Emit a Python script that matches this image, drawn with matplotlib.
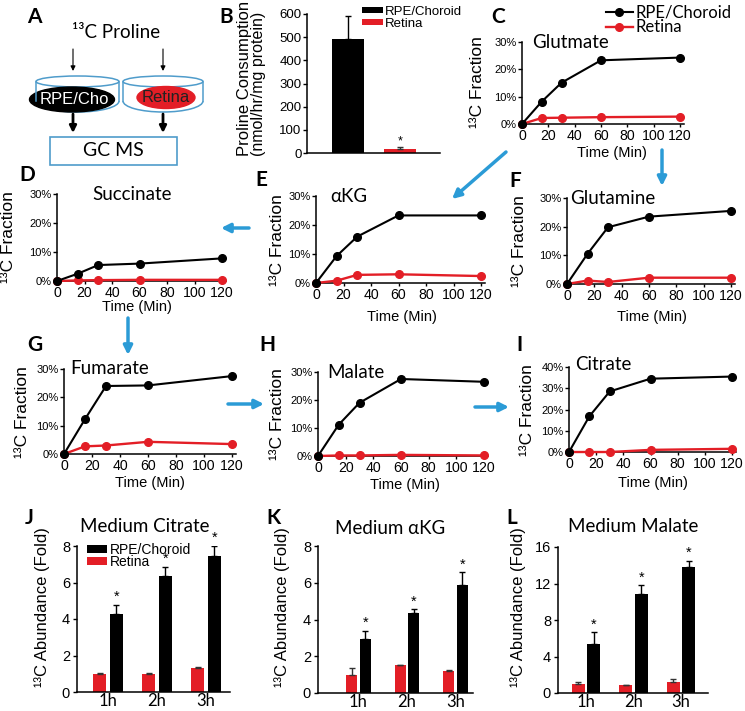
import matplotlib
matplotlib.use('Agg')
import matplotlib.pyplot as plt
from matplotlib.patches import Ellipse, Arc, Rectangle
from matplotlib.lines import Line2D
import numpy as np

W, H = 745, 711
plt.rcParams['font.family'] = ['Liberation Sans', 'DejaVu Sans']
TF = ['Lato', 'DejaVu Sans']
RED = '#e31e26'
BLUE = '#2b9bd6'
DISH = '#4f9ccb'

# ---------------- data ----------------
time_min = [0, 15, 30, 60, 120]
glutamate_rpe = [0, 8.2, 15.1, 23.3, 24.3]
glutamate_ret = [0, 2.2, 2.3, 2.5, 2.7]
succinate_rpe = [0, 2.5, 5.5, 6.0, 7.8]
succinate_ret = [0, 0.2, 0.3, 0.4, 0.4]
akg_rpe = [0, 9.3, 16.0, 23.3, 23.3]
akg_ret = [0, 0.8, 2.8, 3.0, 2.4]
glutamine_rpe = [0, 10.5, 19.8, 23.5, 25.5]
glutamine_ret = [0, 1.2, 0.7, 2.2, 2.2]
fumarate_rpe = [0, 12.3, 24.0, 24.2, 27.5]
fumarate_ret = [0, 2.7, 3.0, 4.3, 3.5]
malate_rpe = [0, 11.2, 19.0, 27.5, 26.5]
malate_ret = [0, 0.2, 0.2, 0.4, 0.2]
citrate_rpe = [0, 16.8, 28.5, 34.5, 35.5]
citrate_ret = [0, 0.0, 0.0, 1.0, 1.5]

groups_b = ['RPE/Choroid', 'Retina']
proline_cons = [492, 19]
proline_err = [99, 5]

hours = ['1h', '2h', '3h']
med_citrate_ret = [0.99, 0.99, 1.33]
med_citrate_ret_err = [0.06, 0.07, 0.05]
med_citrate_rpe = [4.26, 6.37, 7.43]
med_citrate_rpe_err = [0.51, 0.50, 0.57]
med_akg_ret = [1.0, 1.51, 1.18]
med_akg_ret_err = [0.38, 0.03, 0.05]
med_akg_rpe = [2.96, 4.33, 5.87]
med_akg_rpe_err = [0.44, 0.23, 0.69]
med_malate_ret = [0.95, 0.88, 1.24]
med_malate_ret_err = [0.22, 0.05, 0.29]
med_malate_rpe = [5.33, 10.9, 13.8]
med_malate_rpe_err = [1.35, 0.9, 0.7]

fig = plt.figure(figsize=(W / 100, H / 100), dpi=100)

# overlay in pixel coordinates
ov = fig.add_axes([0, 0, 1, 1], zorder=10)
ov.set_xlim(0, W)
ov.set_ylim(H, 0)
ov.axis('off')
ov.patch.set_alpha(0)


def add_ax(x0, x1, ybot, ytop):
    return fig.add_axes([x0 / W, 1 - ybot / H, (x1 - x0) / W, (ybot - ytop) / H])


def style(ax):
    for s in ['top', 'right']:
        ax.spines[s].set_visible(False)
    for s in ['left', 'bottom']:
        ax.spines[s].set_linewidth(1.1)


def line_panel(px0, px120, ypx0, ypxtop, ymax, rpe, ret, title, tx, ty,
               xl, yl, lab, lpos):
    width = (px120 - px0) * 123 / 120
    ax = add_ax(px0, px0 + width, ypx0, ypxtop)
    style(ax)
    ax.plot(time_min, ret, color=RED, lw=1.7, marker='o', ms=5.5,
            clip_on=False, zorder=3)
    ax.plot(time_min, rpe, color='black', lw=1.5, marker='o', ms=5.5,
            clip_on=False, zorder=4)
    ax.set_xlim(0, 123)
    ax.set_ylim(0, ymax)
    ticks = list(range(0, ymax + 1, 10))
    ax.set_yticks(ticks)
    ax.set_yticklabels([f'{v}%' for v in ticks])
    ax.set_xticks([0, 20, 40, 60, 80, 100, 120])
    ax.tick_params(axis='y', labelsize=8, length=3, width=1, pad=1)
    ax.tick_params(axis='x', labelsize=10.2, length=2, width=1, pad=1.5)
    ov.text(tx, ty, title, family=TF, fontsize=13.5, ha='left', va='center')
    ov.text(xl[0], xl[1], 'Time (Min)', fontsize=10.5, ha='center', va='center')
    ov.text(yl[0], yl[1], '¹³C Fraction', fontsize=12.5, rotation=90,
            ha='center', va='center')
    ov.text(lpos[0], lpos[1], lab, family=TF, fontsize=15, fontweight='bold',
            ha='center', va='center')
    return ax


def bar_panel(x_axis, x_right, g1, spacing, bw, off, y0, ytop, ymax, step,
              ret, ret_err, rpe, rpe_err, title, tpos, yl, lab, lpos,
              legend=False, tsize=14):
    left = 1 - (g1 - x_axis) / spacing
    right = 3 + (x_right - (g1 + 2 * spacing)) / spacing
    ax = add_ax(x_axis, x_right, y0, ytop)
    style(ax)
    x = np.arange(1, 4)
    ax.bar(x - off, ret, bw, color=RED, label='Retina',
           yerr=[np.zeros(3), ret_err],
           error_kw=dict(ecolor='#333333', capsize=2.5, elinewidth=1, capthick=1))
    ax.bar(x + off, rpe, bw, color='black', label='RPE/Choroid',
           yerr=[np.zeros(3), rpe_err],
           error_kw=dict(ecolor='black', capsize=2.5, elinewidth=1, capthick=1))
    for xi, v, e in zip(x, rpe, rpe_err):
        ax.text(xi + off, v + e + ymax * 0.005, '*', ha='center', va='bottom',
                fontsize=10.5)
    ax.set_xlim(left, right)
    ax.set_ylim(0, ymax)
    ax.set_yticks(np.arange(0, ymax + 0.1, step))
    ax.set_xticks(x)
    ax.set_xticklabels(hours, family=TF, fontsize=12)
    ax.tick_params(axis='x', length=0, pad=1)
    ax.tick_params(axis='y', labelsize=10.5, length=3, width=1, pad=2)
    ov.text(tpos[0], tpos[1], title, family=TF, fontsize=tsize, ha='center',
            va='center')
    ov.text(yl[0], yl[1], '¹³C Abundance (Fold)', fontsize=12, rotation=90,
            ha='center', va='center')
    ov.text(lpos[0], lpos[1], lab, family=TF, fontsize=15, fontweight='bold',
            ha='center', va='center')
    if legend:
        h, l = ax.get_legend_handles_labels()
        ax.legend(h[::-1], l[::-1], loc='upper left',
                  bbox_to_anchor=(87 / W, 1 - 543 / H),
                  bbox_transform=fig.transFigure, frameon=False, fontsize=10,
                  borderpad=0, borderaxespad=0, handlelength=1.45,
                  handleheight=0.5, handletextpad=0.2, labelspacing=-0.15)
    return ax


# ---------------- Panel A (schematic) ----------------
ov.text(34, 17, 'A', family=TF, fontsize=15, fontweight='bold', ha='center',
        va='center')
ov.text(116, 32, '¹³C Proline', family=TF, fontsize=13.5, ha='center',
        va='center')
for xa in (73, 163):
    ov.annotate('', xy=(xa, 71), xytext=(xa, 49),
                arrowprops=dict(arrowstyle='-|>', color='black', lw=0.8,
                                mutation_scale=7, shrinkA=0, shrinkB=0))
    ov.annotate('', xy=(xa, 133), xytext=(xa, 114),
                arrowprops=dict(arrowstyle='-|>', color='black', lw=2,
                                mutation_scale=10, shrinkA=0, shrinkB=0))
for cx, w in ((77.5, 83), (163, 80)):
    ov.add_patch(Ellipse((cx, 81.5), w, 11, fill=False, ec=DISH, lw=1.1))
    ov.add_patch(Arc((cx, 101), w, 22, theta1=0, theta2=180, ec=DISH, lw=1.1))
    ov.plot([cx - w / 2, cx - w / 2], [81.5, 101], color=DISH, lw=1.1)
    ov.plot([cx + w / 2, cx + w / 2], [81.5, 101], color=DISH, lw=1.1)
ov.add_patch(Ellipse((72, 99.5), 85, 25, color='black'))
ov.text(74, 100, 'RPE/Cho', color='white', fontsize=12, ha='center',
        va='center')
ov.add_patch(Ellipse((166, 97.5), 58, 22, color=RED))
ov.text(166, 98, 'Retina', color='#222222', fontsize=12, ha='center',
        va='center')
ov.add_patch(Rectangle((50, 137), 127, 28, fill=False, ec=DISH, lw=1.2))
ov.text(113.5, 151, 'GC MS', family=TF, fontsize=14, ha='center',
        va='center')

# ---------------- Panel B ----------------
axb = add_ax(307, 440, 153, 14)
style(axb)
axb.bar([0], [proline_cons[0]], 0.615, color='black', label=groups_b[0],
        yerr=[[0], [proline_err[0]]],
        error_kw=dict(ecolor='black', capsize=2.5, elinewidth=1, capthick=1))
axb.bar([1], [proline_cons[1]], 0.615, color=RED, label=groups_b[1],
        yerr=[[0], [proline_err[1]]],
        error_kw=dict(ecolor='#333333', capsize=2.5, elinewidth=1, capthick=1))
axb.text(1, proline_cons[1] + proline_err[1] + 2, '*', ha='center',
         va='bottom', fontsize=9)
axb.set_xlim(-0.79, 1.77)
axb.set_ylim(0, 600)
axb.set_yticks(range(0, 601, 100))
axb.set_xticks([])
axb.tick_params(axis='y', labelsize=9.5, length=3, width=1, pad=1)
axb.legend(loc='upper left', bbox_to_anchor=(362 / W, 1 - 6 / H),
           bbox_transform=fig.transFigure, frameon=False, fontsize=9.5,
           borderpad=0, borderaxespad=0, handlelength=1.6, handleheight=0.35,
           handletextpad=0.1, labelspacing=0.0)
ov.text(244, 78, 'Proline Consumption', fontsize=12, rotation=90,
        ha='center', va='center')
ov.text(259, 84, '(nmol/hr/mg protein)', fontsize=11.5, rotation=90,
        ha='center', va='center')
ov.text(226, 17, 'B', family=TF, fontsize=15, fontweight='bold', ha='center',
        va='center')

# ---------------- line panels ----------------
axc = line_panel(522, 680, 124, 42, 30, glutamate_rpe, glutamate_ret,
                 'Glutmate', 532, 43, (612, 153), (477, 82), 'C', (498, 17))
hl = [Line2D([], [], color='black', lw=1.5, marker='o', ms=5.5),
      Line2D([], [], color=RED, lw=1.7, marker='o', ms=5.5)]
axc.legend(hl, ['RPE/Choroid', 'Retina'], loc='upper left',
           bbox_to_anchor=(606 / W, 1 - 5 / H), bbox_transform=fig.transFigure,
           frameon=False, prop=dict(family=TF, size=12), borderpad=0,
           borderaxespad=0, handlelength=1.6, handletextpad=0.15,
           labelspacing=-0.1)
line_panel(57, 222, 281, 194, 30, succinate_rpe, succinate_ret, 'Succinate',
           92, 195, (137, 307), (9, 237), 'D', (27, 175))
line_panel(316, 481, 283, 196, 30, akg_rpe, akg_ret, 'αKG', 330, 197,
           (402, 317), (277, 240), 'E', (261, 180))
line_panel(567, 731, 284, 198, 30, glutamine_rpe, glutamine_ret, 'Glutamine',
           570, 198, (652, 317), (520, 241), 'F', (515, 181))
line_panel(64, 232, 454, 369, 30, fumarate_rpe, fumarate_ret, 'Fumarate',
           70, 368, (150, 483), (23, 412), 'G', (35, 345))
line_panel(318, 484, 456, 372, 30, malate_rpe, malate_ret, 'Malate',
           327, 372, (405, 485), (277, 414), 'H', (267, 345))
line_panel(569, 732, 452, 367, 40, citrate_rpe, citrate_ret, 'Citrate',
           575, 365, (653, 483), (527, 410), 'I', (519, 345))

# ---------------- bar panels ----------------
bar_panel(77, 230, 108, 49, 0.265, 0.173, 692, 546, 8, 2,
          med_citrate_ret, med_citrate_ret_err, med_citrate_rpe,
          med_citrate_rpe_err, 'Medium Citrate', (145, 526), (42, 607), 'J',
          (29, 518), legend=True, tsize=13.5)
bar_panel(318, 473, 358.5, 48.5, 0.227, 0.144, 693, 546, 8, 2,
          med_akg_ret, med_akg_ret_err, med_akg_rpe, med_akg_rpe_err,
          'Medium αKG', (390, 528), (282, 607), 'K', (274, 518), tsize=13.5)
bar_panel(558, 708, 586, 47.5, 0.28, 0.163, 693, 547, 16, 4,
          med_malate_ret, med_malate_ret_err, med_malate_rpe,
          med_malate_rpe_err, 'Medium Malate', (633, 526), (518, 607), 'L',
          (512, 518), tsize=13.5)

# ---------------- blue flow arrows ----------------
arrows = [((506, 152), (452, 199)),
          ((662, 150), (662, 186)),
          ((249, 228), (221, 228)),
          ((128, 318), (128, 355)),
          ((228, 404), (264, 404)),
          ((475, 407), (509, 407))]
for (sx, sy), (ex, ey) in arrows:
    ov.annotate('', xy=(ex, ey), xytext=(sx, sy),
                arrowprops=dict(arrowstyle='-|>', color=BLUE, lw=2.5,
                                mutation_scale=13, shrinkA=0, shrinkB=0))

fig.savefig('out.png', dpi=100)
